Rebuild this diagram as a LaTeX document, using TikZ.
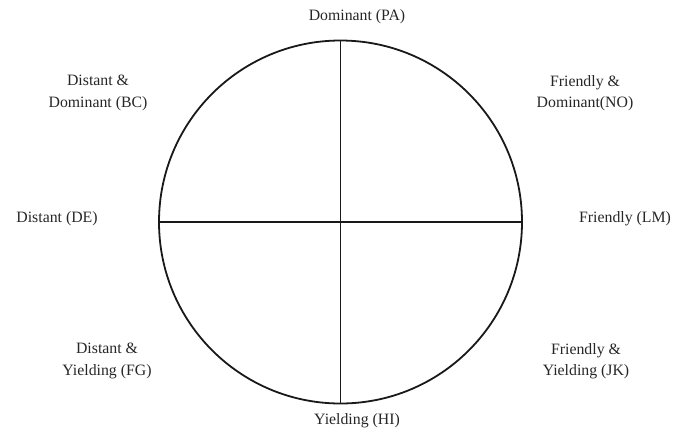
\documentclass[tikz,border=0pt]{standalone}
\usepackage{fontspec}
\setmainfont{Liberation Serif}
\begin{document}
\begin{tikzpicture}[x=1pt,y=-1pt,
  lbl/.style={font=\fontsize{15.8}{21.5}\selectfont, text=black!85, align=center, inner sep=0pt},
  ln/.style={line width=1.8pt, black!90}]
\useasboundingbox (0,0) rectangle (684,432);
\coordinate (c) at (340.5,222);
\draw[ln] (c) circle[radius=181.5];
\coordinate (t) at (340.5,40.5);
\coordinate (b) at (340.5,403.5);
\coordinate (l) at (159,222);
\coordinate (r) at (522,222);
\draw[ln] (t) -- (b);
\draw[ln] (l) -- (r);
\node[lbl] (pa) at (357,17) {Dominant (PA)};
\node[lbl] (hi) at (357,421) {Yielding (HI)};
\node[lbl] (de) at (57,219) {Distant (DE)};
\node[lbl] (lm) at (625,219) {Friendly (LM)};
\node[lbl] (bc) at (98,93) {Distant \&\\Dominant (BC)};
\node[lbl] (no) at (585,93) {Friendly \&\\Dominant(NO)};
\node[lbl] (fg) at (107,361) {Distant \&\\Yielding (FG)};
\node[lbl] (jk) at (586,361) {Friendly \&\\Yielding (JK)};
\end{tikzpicture}
\end{document}
